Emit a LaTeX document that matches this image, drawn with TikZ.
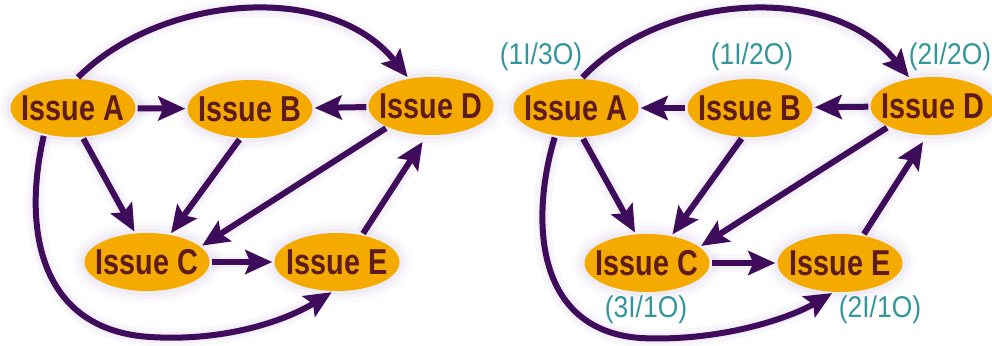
\documentclass[tikz,border=0pt]{standalone}
\usepackage{graphicx}
\usepackage{fontspec}
\usetikzlibrary{arrows.meta,shapes.geometric}
\newfontfamily\issuefont{Liberation Sans}
\definecolor{issuefill}{RGB}{245,170,0}
\definecolor{issuetext}{RGB}{95,28,30}
\definecolor{linkcol}{RGB}{62,12,90}
\definecolor{halocol}{RGB}{150,120,185}
\definecolor{countcol}{RGB}{50,150,155}
\tikzset{
  issue/.style={ellipse, fill=issuefill, minimum width=125pt, minimum height=58pt,
    inner xsep=-20pt, inner ysep=-8pt, text=issuetext,
    font=\issuefont\bfseries\fontsize{36}{36}\selectfont,
    preaction={draw=halocol, draw opacity=0.04, line width=24pt},
    preaction={draw=halocol, draw opacity=0.05, line width=16pt},
    preaction={draw=halocol, draw opacity=0.06, line width=8pt}},
  link/.style={draw=linkcol, line width=6pt,
    -{Stealth[length=27pt,width=24pt,inset=5pt]}, shorten <=2pt, shorten >=2pt,
    preaction={draw=halocol, draw opacity=0.06, line width=18pt, -, shorten >=14pt},
    preaction={draw=halocol, draw opacity=0.06, line width=11pt, -, shorten >=14pt}},
  count/.style={text=countcol, inner sep=0pt,
    font=\issuefont\fontsize{30}{30}\selectfont}
}
\newcommand\issuelabel[1]{\scalebox{0.8}[1]{#1}}
\newcommand\countlabel[1]{\scalebox{0.88}[1]{#1}}
\begin{document}
\begin{tikzpicture}[x=1pt,y=-1pt]
  \useasboundingbox (0,0) rectangle (992,345);

  % ---------- left graph ----------
  \node[issue] (lA) at (73,108)  {\issuelabel{Issue A}};
  \node[issue] (lB) at (250,109) {\issuelabel{Issue B}};
  \node[issue] (lD) at (431,106) {\issuelabel{Issue D}};
  \node[issue] (lC) at (147,262) {\issuelabel{Issue C}};
  \node[issue] (lE) at (337,262) {\issuelabel{Issue E}};

  \draw[link] (lA) -- (lB);
  \draw[link] (lD) -- (lB);
  \draw[link] (lA.-72) -- (lC.112);
  \draw[link] (lB.-108) -- (lC.50);
  \draw[link] (lD.-154) -- (lC.16);
  \draw[link] (lC) -- (lE);
  \draw[link, shorten >=8pt] (lE.47) -- (lD.-98);
  \draw[link] (lA.83) .. controls (160,-5) and (330,-20) .. (lD.129);
  \draw[link] (lA.-138) .. controls (22,230) and (40,330) .. (150,337)
                        .. controls (230,342) and (290,318) .. (lE.-97);

  % ---------- right graph ----------
  \node[issue] (rA) at (576,108) {\issuelabel{Issue A}};
  \node[issue] (rB) at (750,108) {\issuelabel{Issue B}};
  \node[issue] (rD) at (933,106) {\issuelabel{Issue D}};
  \node[issue] (rC) at (647,263) {\issuelabel{Issue C}};
  \node[issue] (rE) at (840,263) {\issuelabel{Issue E}};

  \draw[link] (rB) -- (rA);
  \draw[link] (rD) -- (rB);
  \draw[link] (rA.-78) -- (rC.111);
  \draw[link] (rB.-104) -- (rC.48);
  \draw[link] (rD.-155) -- (rC.17);
  \draw[link] (rC) -- (rE);
  \draw[link, shorten >=8pt] (rE.50) -- (rD.-101);
  \draw[link] (rA.80) .. controls (660,-5) and (830,-20) .. (rD.130);
  \draw[link] (rA.-127) .. controls (530,220) and (535,330) .. (640,338)
                        .. controls (720,342) and (790,318) .. (rE.-102);

  % in/out counts
  \node[count] (kA) at (541,57)  {\countlabel{(1I/3O)}};
  \node[count] (kB) at (752,57)  {\countlabel{(1I/2O)}};
  \node[count] (kD) at (950,57)  {\countlabel{(2I/2O)}};
  \node[count] (kC) at (646,310) {\countlabel{(3I/1O)}};
  \node[count] (kE) at (880,310) {\countlabel{(2I/1O)}};
\end{tikzpicture}
\end{document}
